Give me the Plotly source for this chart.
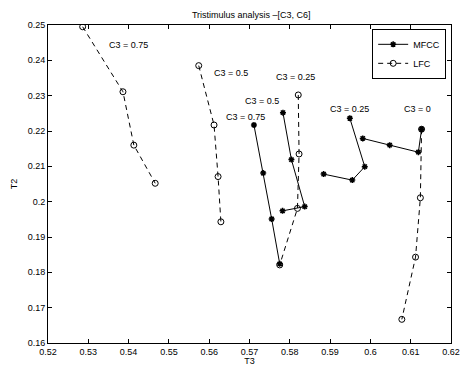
import plotly.graph_objects as go

# MFCC groups (T3, T2)
mfcc_c3_075_x = [0.5711, 0.5734, 0.5755, 0.5775]
mfcc_c3_075_y = [0.2217, 0.2081, 0.1951, 0.1824]
mfcc_c3_05_x = [0.5783, 0.5804, 0.5837, 0.5782]
mfcc_c3_05_y = [0.2252, 0.2119, 0.1986, 0.1974]
mfcc_c3_025_x = [0.5949, 0.5986, 0.5955, 0.5884]
mfcc_c3_025_y = [0.2236, 0.2099, 0.2061, 0.2078]
mfcc_c3_0_x = [0.6127, 0.6119, 0.6048, 0.5981]
mfcc_c3_0_y = [0.2205, 0.2140, 0.2160, 0.2179]

# LFC groups (T3, T2)
lfc_c3_075_x = [0.5286, 0.5386, 0.5413, 0.5466]
lfc_c3_075_y = [0.2495, 0.2311, 0.2160, 0.2052]
lfc_c3_05_x = [0.5574, 0.5612, 0.5622, 0.5629]
lfc_c3_05_y = [0.2385, 0.2217, 0.2071, 0.1943]
lfc_c3_025_x = [0.5821, 0.5823, 0.5819, 0.5775]
lfc_c3_025_y = [0.2302, 0.2135, 0.1981, 0.1821]
lfc_c3_0_x = [0.6127, 0.6124, 0.6112, 0.6078]
lfc_c3_0_y = [0.2205, 0.2011, 0.1843, 0.1667]

# group labels
label_texts = ["C3 = 0.75", "C3 = 0.5", "C3 = 0.25", "C3 = 0.5", "C3 = 0.75", "C3 = 0.25", "C3 = 0"]
label_x = [0.5400, 0.5653, 0.5813, 0.5732, 0.5690, 0.5947, 0.6117]
label_y = [0.2444, 0.2365, 0.2354, 0.2286, 0.2239, 0.2261, 0.2261]

# ticks
x_tickvals = [0.52, 0.53, 0.54, 0.55, 0.56, 0.57, 0.58, 0.59, 0.60, 0.61, 0.62]
x_ticktext = ["0.52", "0.53", "0.54", "0.55", "0.56", "0.57", "0.58", "0.59", "0.6", "0.61", "0.62"]
y_tickvals = [0.16, 0.17, 0.18, 0.19, 0.20, 0.21, 0.22, 0.23, 0.24, 0.25]
y_ticktext = ["0.16", "0.17", "0.18", "0.19", "0.2", "0.21", "0.22", "0.23", "0.24", "0.25"]


def join(groups):
    out = []
    for i, g in enumerate(groups):
        if i:
            out.append(None)
        out.extend(g)
    return out


mfcc_x = join([mfcc_c3_075_x, mfcc_c3_05_x, mfcc_c3_025_x, mfcc_c3_0_x])
mfcc_y = join([mfcc_c3_075_y, mfcc_c3_05_y, mfcc_c3_025_y, mfcc_c3_0_y])
lfc_x = join([lfc_c3_075_x, lfc_c3_05_x, lfc_c3_025_x, lfc_c3_0_x])
lfc_y = join([lfc_c3_075_y, lfc_c3_05_y, lfc_c3_025_y, lfc_c3_0_y])

FONT = "Liberation Sans, Arial, Helvetica, sans-serif"

fig = go.Figure()
fig.add_trace(go.Scatter(
    x=mfcc_x, y=mfcc_y, mode="lines+markers", name="MFCC",
    line=dict(color="black", width=1),
    marker=dict(symbol="asterisk-open", size=5, color="black",
                line=dict(color="black", width=1.5)),
))
fig.add_trace(go.Scatter(
    x=lfc_x, y=lfc_y, mode="lines+markers", name="LFC",
    line=dict(color="black", width=1, dash="5px,4px"),
    marker=dict(symbol="circle-open", size=6, color="black",
                line=dict(color="black", width=1)),
))

for t, x, y in zip(label_texts, label_x, label_y):
    fig.add_annotation(x=x, y=y, text=t, showarrow=False, xref="x", yref="y",
                       font=dict(size=9, color="black", family=FONT))

axis_common = dict(
    showgrid=False, zeroline=False, showline=True, linecolor="black", linewidth=1,
    mirror="ticks", ticks="inside", ticklen=4, tickcolor="black", tickwidth=1,
    tickfont=dict(size=9, color="black", family=FONT), automargin=False,
)

fig.update_xaxes(range=[0.52, 0.62], tickvals=x_tickvals, ticktext=x_ticktext,
                 title=dict(text="T3", font=dict(size=9, color="black", family=FONT), standoff=2),
                 **axis_common)
fig.update_yaxes(range=[0.16, 0.25], tickvals=y_tickvals, ticktext=y_ticktext,
                 title=dict(text="T2", font=dict(size=9, color="black", family=FONT), standoff=8),
                 **axis_common)

fig.update_layout(
    width=461, height=366,
    margin=dict(l=48, r=10, t=25, b=23),
    paper_bgcolor="white", plot_bgcolor="white",
    font=dict(family=FONT, size=9, color="black"),
    title=dict(text="Tristimulus analysis \u2013[C3, C6]", x=0.545, xanchor="center",
               y=1 - 15 / 366, yanchor="middle", font=dict(size=9, color="black", family=FONT)),
    legend=dict(x=0.988, y=0.988, xanchor="right", yanchor="top", bgcolor="white",
                bordercolor="black", borderwidth=1, font=dict(size=9, family=FONT, color="black"),
                itemwidth=30, tracegroupgap=0),
    showlegend=True,
)

fig.write_html("out.html")
